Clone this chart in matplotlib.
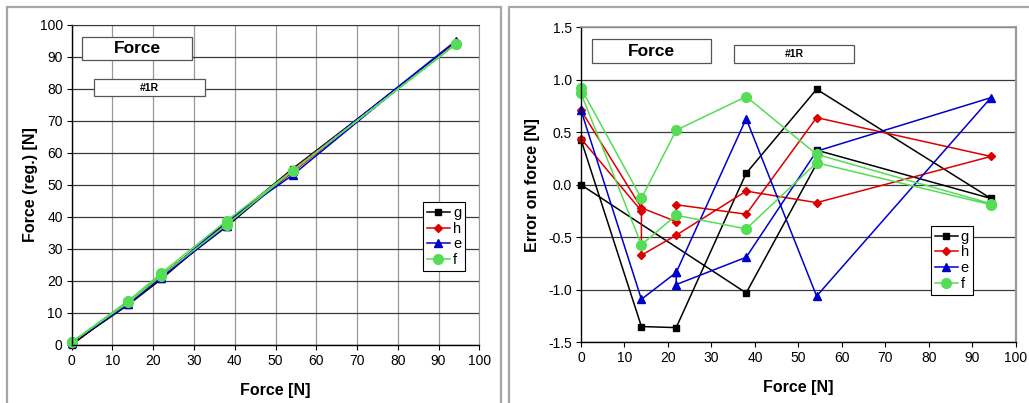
"""
Force calibration, run #1R: regressed force and error vs applied force.
"""

import matplotlib
matplotlib.use("Agg")
import matplotlib.pyplot as plt
from matplotlib.patches import Rectangle

plt.rcParams["font.family"] = ["Liberation Sans", "DejaVu Sans"]

W, H = 1029, 403

# =============================================================================
# DATA (loading / unloading loops)
# =============================================================================

SERIES = ["g", "h", "e", "f"]

# applied force [N]
x_g = [0, 13.9, 21.9, 38, 54.2, 94.3, 54.2, 54.2, 38, 0]
x_h = [0, 13.9, 21.9, 21.9, 38, 54.2, 94.3, 54.2, 38, 21.9, 13.9, 13.9, 0]
x_e = [0, 13.9, 21.9, 38, 54.2, 94.3, 54.2, 38, 21.9, 21.9]
x_f = [0, 13.9, 21.9, 38, 54.2, 94.3, 94.3, 54.2, 38, 21.9, 13.9, 0]

# regressed force [N] (left chart)
reg_g = [0.4, 12.6, 20.5, 38.1, 55.1, 94.2, 54.5, 54.4, 37.0, 0.0]
reg_h = [0.7, 13.7, 21.6, 21.7, 37.7, 54.8, 94.6, 54.0, 37.9, 21.4, 13.2, 13.7, 0.4]
reg_e = [0.7, 12.8, 21.1, 38.6, 53.1, 95.1, 54.5, 37.3, 21.0, 21.1]
reg_f = [0.9, 13.8, 22.4, 38.8, 54.5, 94.1, 94.1, 54.4, 37.6, 21.6, 13.3, 0.9]

# error on force [N] (right chart)
err_g = [0.43, -1.35, -1.36, 0.11, 0.91, -0.13, 0.33, 0.20, -1.03, 0.0]
err_h = [0.71, -0.22, -0.35, -0.19, -0.28, 0.64, 0.27, -0.17, -0.06, -0.48, -0.67, -0.25, 0.44]
err_e = [0.71, -1.09, -0.835, 0.63, -1.06, 0.83, 0.32, -0.69, -0.95, -0.835]
err_f = [0.92, -0.13, 0.52, 0.84, 0.29, -0.18, -0.19, 0.21, -0.42, -0.29, -0.57, 0.87]

X_TICKS = list(range(0, 101, 10))
REG_TICKS = list(range(0, 101, 10))
ERR_TICKS = [-1.5, -1.0, -0.5, 0.0, 0.5, 1.0, 1.5]

STYLES = {
    "g": dict(color="#000000", marker="s", markersize=5),
    "h": dict(color="#dd0000", marker="D", markersize=4),
    "e": dict(color="#0000cc", marker="^", markersize=6),
    "f": dict(color="#55dd55", marker="o", markersize=7),
}

COLOR_FRAME = "#a6a6a6"
COLOR_GRID_DARK = "#3a3a3a"
COLOR_GRID_LIGHT = "#999999"


def px_rect(x0, y0, x1, y1):
    """pixel box (top-left origin) -> figure fraction [left, bottom, width, height]"""
    return [x0 / W, (H - y1) / H, (x1 - x0) / W, (y1 - y0) / H]


def caja_texto(fig, x0, y0, x1, y1, texto, size):
    l, b, w, h = px_rect(x0, y0, x1, y1)
    fig.patches.append(Rectangle((l, b), w, h, transform=fig.transFigure,
                                 facecolor="white", edgecolor="#555555", linewidth=0.9, zorder=5))
    fig.text(l + w / 2, b + h / 2, texto, ha="center", va="center",
             fontsize=size, fontweight="bold", zorder=6)


def estilo_ejes(ax):
    ax.tick_params(axis="both", direction="out", length=3.5, width=0.8, labelsize=10, pad=3)
    ax.spines["left"].set_linewidth(1.0)
    ax.spines["bottom"].set_linewidth(1.0)
    ax.set_axisbelow(True)


fig = plt.figure(figsize=(W / 100, H / 100), dpi=100)

# chart frames
for x0, x1 in [(7, 501), (509, 1040)]:
    l, b, w, h = px_rect(x0, 7, x1, 420)
    fig.patches.append(Rectangle((l, b), w, h, transform=fig.transFigure,
                                 facecolor="none", edgecolor=COLOR_FRAME, linewidth=1.6))

# =============================================================================
# LEFT: regressed force
# =============================================================================
ax1 = fig.add_axes(px_rect(71.7, 25, 479.3, 345))
for nombre, xs, ys in [("g", x_g, reg_g), ("h", x_h, reg_h), ("e", x_e, reg_e), ("f", x_f, reg_f)]:
    ax1.plot(xs, ys, linewidth=1.1, label=nombre, clip_on=False, **STYLES[nombre])
ax1.set_xlim(0, 100)
ax1.set_ylim(0, 100)
ax1.set_xticks(X_TICKS)
ax1.set_yticks(REG_TICKS)
ax1.xaxis.grid(True, color=COLOR_GRID_LIGHT, linewidth=0.9)
ax1.yaxis.grid(True, color=COLOR_GRID_DARK, linewidth=0.9)
ax1.spines["top"].set_color(COLOR_GRID_DARK)
ax1.spines["right"].set_color(COLOR_GRID_LIGHT)
estilo_ejes(ax1)
ax1.set_xlabel("Force [N]", fontsize=11.5, fontweight="bold", labelpad=10.5)
ax1.set_ylabel("Force (reg.) [N]", fontsize=11.5, fontweight="bold", labelpad=1)
leg1 = ax1.legend(loc="upper left", bbox_to_anchor=(0.862, 0.446), fontsize=10.5,
                  frameon=True, fancybox=False, edgecolor="#000000", framealpha=1,
                  handlelength=1.6, handletextpad=0.2, borderpad=0.25,
                  labelspacing=0.12, borderaxespad=0)
leg1.get_frame().set_linewidth(0.8)

caja_texto(fig, 81.7, 37.3, 192.3, 60, "Force", 12.5)
caja_texto(fig, 94.3, 79.3, 205.3, 96.3, "#1R", 7.5)

# =============================================================================
# RIGHT: error on force
# =============================================================================
ax2 = fig.add_axes(px_rect(581, 27.3, 1015.7, 342.3))
for nombre, xs, ys in [("g", x_g, err_g), ("h", x_h, err_h), ("e", x_e, err_e), ("f", x_f, err_f)]:
    ax2.plot(xs, ys, linewidth=1.1, label=nombre, clip_on=False, **STYLES[nombre])
ax2.set_xlim(0, 100)
ax2.set_ylim(-1.5, 1.5)
ax2.set_xticks(X_TICKS)
ax2.set_yticks(ERR_TICKS)
ax2.set_yticklabels([f"{v:.1f}" for v in ERR_TICKS])
ax2.yaxis.grid(True, color=COLOR_GRID_DARK, linewidth=0.9)
ax2.spines["top"].set_color(COLOR_GRID_LIGHT)
ax2.spines["right"].set_color(COLOR_GRID_LIGHT)
ax2.spines["top"].set_linewidth(1.2)
ax2.spines["right"].set_linewidth(1.6)
estilo_ejes(ax2)
ax2.set_xlabel("Force [N]", fontsize=11.5, fontweight="bold", labelpad=10.5)
ax2.set_ylabel("Error on force [N]", fontsize=11.5, fontweight="bold", labelpad=5.5)
leg2 = ax2.legend(loc="upper left", bbox_to_anchor=(0.805, 0.369), fontsize=10.5,
                  frameon=True, fancybox=False, edgecolor="#000000", framealpha=1,
                  handlelength=1.6, handletextpad=0.2, borderpad=0.25,
                  labelspacing=0.12, borderaxespad=0)
leg2.get_frame().set_linewidth(0.8)

caja_texto(fig, 591.7, 39.3, 710.7, 63.3, "Force", 12.5)
caja_texto(fig, 734.3, 45, 853.7, 63.3, "#1R", 7.5)

fig.savefig("out.png", dpi=100)
plt.close(fig)
